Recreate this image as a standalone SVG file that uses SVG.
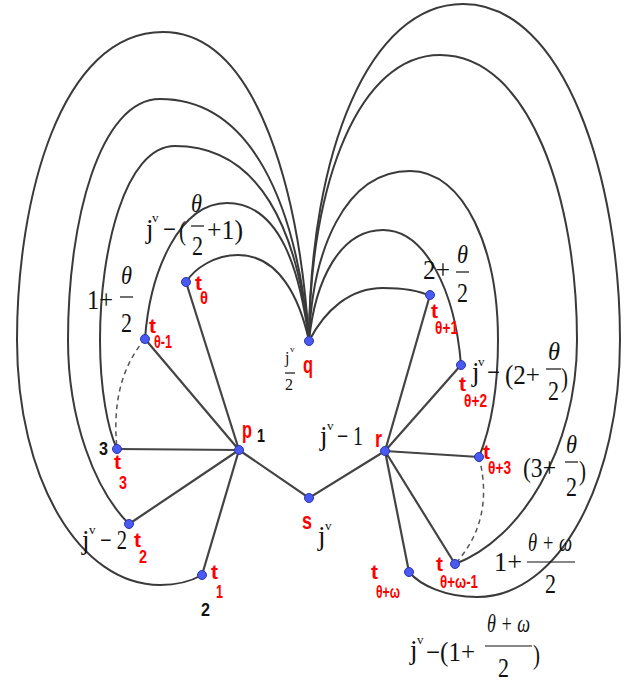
<svg xmlns="http://www.w3.org/2000/svg" width="643" height="684" viewBox="0 0 643 684">
<style>
.c{fill:none;stroke:#3a3a3a;stroke-width:2}
.e{fill:none;stroke:#444;stroke-width:2.2}
.d{fill:none;stroke:#555;stroke-width:1.5;stroke-dasharray:5 4}
.n{fill:#4a5af0;stroke:#2a35b0;stroke-width:1}
.t{font-family:"Liberation Sans",Arial,sans-serif;font-size:21px;fill:#ff0000;font-weight:bold}
.s{font-family:"Liberation Sans",Arial,sans-serif;font-size:18px;fill:#ff0000;font-weight:bold}
.L{font-family:"Liberation Sans",Arial,sans-serif;font-size:24px;fill:#ff0000;font-weight:bold}
.k{font-family:"Liberation Sans",Arial,sans-serif;font-size:19px;fill:#111;font-weight:bold}
.m{font-family:"Liberation Serif","Times New Roman",serif;font-size:27px;fill:#111}
.mi{font-family:"Liberation Serif","Times New Roman",serif;font-size:25px;fill:#111;font-style:italic}
.sup{font-family:"Liberation Serif","Times New Roman",serif;font-size:13px;fill:#111}
.fb{stroke:#111;stroke-width:1.2}
</style>
<rect width="643" height="684" fill="#fff"/>
<g id="connectors">
<path class="c" d="M309 341 C300 200 260 32 163 32 C60 32 17 200 17 340 C17 480 80 585 160 585 C180 585 195 579 202 575"/>
<path class="c" d="M309 341 C296 200 250 99 160 99 C100 99 68 220 68 340 C68 420 95 490 129 524"/>
<path class="c" d="M309 341 C298 230 260 146 175 146 C125 146 100 250 100 340 C100 390 108 430 117 449"/>
<path class="c" d="M309 341 C300 270 280 203 227 203 C180 203 150 270 145 339"/>
<path class="c" d="M309 341 C300 300 280 255 238 255 C215 255 195 268 186 282"/>
<path class="c" d="M309 341 C325 310 350 288 383 288 C405 288 420 291 430 296"/>
<path class="c" d="M309 341 C315 280 340 230 383 230 C425 230 455 290 461 365"/>
<path class="c" d="M309 341 C312 250 345 171 410 171 C465 171 498 250 498 340 C498 390 490 430 479 457"/>
<path class="c" d="M309 341 C310 180 360 55 440 55 C530 55 577 200 577 340 C577 450 520 540 455 564"/>
<path class="c" d="M309 341 C310 150 370 4 463 4 C565 4 620 180 620 340 C620 480 560 597 477 597 C445 597 420 585 409 572"/>
<path class="d" d="M145 339 Q110 380 117 449"/>
<path class="d" d="M479 457 Q495 520 455 564"/>
<path class="e" d="M239 450 L186 282 M239 450 L145 339 M239 450 L117 449 M239 450 L129 524 M239 450 L202 575 M239 450 L309 498 L385 451"/>
<path class="e" d="M385 451 L430 295 M385 451 L461 365 M385 451 L479 457 M385 451 L455 564 M385 451 L409 572"/>
</g>
<g id="q"><circle class="n" cx="309" cy="341" r="4.5"/><text class="L" x="303" y="373" textLength="10" lengthAdjust="spacingAndGlyphs">q</text>
<text class="sup" x="285" y="363" style="font-size:16px">j</text><text class="sup" x="290" y="352" style="font-size:9px">v</text><line class="fb" x1="285" y1="373" x2="295" y2="373"/><text class="sup" x="285" y="390" style="font-size:16px" textLength="8" lengthAdjust="spacingAndGlyphs">2</text></g>
<g id="p"><circle class="n" cx="239" cy="450" r="4.5"/><text class="L" x="242" y="438" textLength="10" lengthAdjust="spacingAndGlyphs">p</text><text class="k" x="257" y="442" textLength="8" lengthAdjust="spacingAndGlyphs">1</text></g>
<g id="s"><circle class="n" cx="309" cy="498" r="4.5"/><text class="L" x="302" y="529" textLength="10" lengthAdjust="spacingAndGlyphs">s</text><text class="m" x="318" y="545">j</text><text class="sup" x="325" y="530">v</text></g>
<g id="r"><circle class="n" cx="385" cy="451" r="4.5"/><text class="L" x="375" y="447" textLength="7" lengthAdjust="spacingAndGlyphs">r</text><text class="m" x="320" y="445">j</text><text class="sup" x="327" y="430">v</text><text class="m" x="337" y="445" textLength="26" lengthAdjust="spacingAndGlyphs">− 1</text></g>
<g id="t_theta"><circle class="n" cx="186" cy="282" r="4.5"/><text class="t" x="195" y="290">t</text><text class="s" x="200" y="304" textLength="8" lengthAdjust="spacingAndGlyphs">θ</text></g>
<g id="t_theta_m1"><circle class="n" cx="145" cy="339" r="4.5"/><text class="t" x="149" y="333">t</text><text class="s" x="154" y="348" textLength="18" lengthAdjust="spacingAndGlyphs">θ-1</text></g>
<g id="t_3"><circle class="n" cx="117" cy="449" r="4.5"/><text class="k" x="99" y="455" textLength="9" lengthAdjust="spacingAndGlyphs">3</text><text class="t" x="114" y="469">t</text><text class="s" x="119" y="489" textLength="8" lengthAdjust="spacingAndGlyphs">3</text></g>
<g id="t_2"><circle class="n" cx="129" cy="524" r="4.5"/><text class="t" x="134" y="547">t</text><text class="s" x="139" y="563" textLength="8" lengthAdjust="spacingAndGlyphs">2</text></g>
<g id="t_1"><circle class="n" cx="202" cy="575" r="4.5"/><text class="t" x="211" y="579">t</text><text class="s" x="216" y="598" textLength="7" lengthAdjust="spacingAndGlyphs">1</text><text class="k" x="201" y="616" textLength="9" lengthAdjust="spacingAndGlyphs">2</text></g>
<g id="t_theta_p1"><circle class="n" cx="430" cy="295" r="4.5"/><text class="t" x="431" y="318">t</text><text class="s" x="435" y="334" textLength="23" lengthAdjust="spacingAndGlyphs">θ+1</text></g>
<g id="t_theta_p2"><circle class="n" cx="461" cy="365" r="4.5"/><text class="t" x="459" y="391">t</text><text class="s" x="464" y="407" textLength="23" lengthAdjust="spacingAndGlyphs">θ+2</text></g>
<g id="t_theta_p3"><circle class="n" cx="479" cy="457" r="4.5"/><text class="t" x="483" y="459">t</text><text class="s" x="488" y="474" textLength="23" lengthAdjust="spacingAndGlyphs">θ+3</text></g>
<g id="t_theta_pw_m1"><circle class="n" cx="455" cy="564" r="4.5"/><text class="t" x="436" y="571">t</text><text class="s" x="440" y="588" textLength="38" lengthAdjust="spacingAndGlyphs">θ+ω-1</text></g>
<g id="t_theta_pw"><circle class="n" cx="409" cy="572" r="4.5"/><text class="t" x="371" y="579">t</text><text class="s" x="376" y="598" textLength="24" lengthAdjust="spacingAndGlyphs">θ+ω</text></g>
<g id="labels">
<text class="m" x="82" y="549">j</text><text class="sup" x="89" y="534">v</text><text class="m" x="100" y="549" textLength="27" lengthAdjust="spacingAndGlyphs">− 2</text>
<text class="m" x="146" y="238">j</text><text class="sup" x="152" y="222">v</text><text class="m" x="163" y="238" textLength="13" lengthAdjust="spacingAndGlyphs">−</text><text class="m" x="179" y="240" textLength="7" lengthAdjust="spacingAndGlyphs">(</text><text class="mi" x="191" y="212" textLength="11" lengthAdjust="spacingAndGlyphs">θ</text><line class="fb" x1="191" y1="226" x2="204" y2="226"/><text class="m" x="192" y="255" textLength="11" lengthAdjust="spacingAndGlyphs">2</text><text class="m" x="207" y="239" textLength="36" lengthAdjust="spacingAndGlyphs">+1)</text>
<text class="m" x="87" y="309" textLength="26" lengthAdjust="spacingAndGlyphs">1+</text><text class="mi" x="121" y="284" textLength="11" lengthAdjust="spacingAndGlyphs">θ</text><line class="fb" x1="120" y1="297" x2="133" y2="297"/><text class="m" x="121" y="332" textLength="11" lengthAdjust="spacingAndGlyphs">2</text>
<text class="m" x="423" y="279" textLength="27" lengthAdjust="spacingAndGlyphs">2+</text><text class="mi" x="457" y="263" textLength="11" lengthAdjust="spacingAndGlyphs">θ</text><line class="fb" x1="456" y1="272" x2="469" y2="272"/><text class="m" x="457" y="302" textLength="11" lengthAdjust="spacingAndGlyphs">2</text>
<text class="m" x="472" y="381">j</text><text class="sup" x="478" y="366">v</text><text class="m" x="487" y="381" textLength="13" lengthAdjust="spacingAndGlyphs">−</text><text class="m" x="505" y="384" textLength="35" lengthAdjust="spacingAndGlyphs">(2+</text><text class="mi" x="548" y="360" textLength="12" lengthAdjust="spacingAndGlyphs">θ</text><line class="fb" x1="546" y1="369" x2="561" y2="369"/><text class="m" x="548" y="400" textLength="11" lengthAdjust="spacingAndGlyphs">2</text><text class="m" x="561" y="387" textLength="7" lengthAdjust="spacingAndGlyphs">)</text>
<text class="m" x="523" y="477" textLength="33" lengthAdjust="spacingAndGlyphs">(3+</text><text class="mi" x="566" y="453" textLength="11" lengthAdjust="spacingAndGlyphs">θ</text><line class="fb" x1="565" y1="462" x2="578" y2="462"/><text class="m" x="566" y="496" textLength="11" lengthAdjust="spacingAndGlyphs">2</text><text class="m" x="579" y="480" textLength="7" lengthAdjust="spacingAndGlyphs">)</text>
<text class="m" x="494" y="571" textLength="28" lengthAdjust="spacingAndGlyphs">1+</text><text class="mi" x="528" y="551" textLength="44" lengthAdjust="spacingAndGlyphs">θ + ω</text><line class="fb" x1="527" y1="562" x2="575" y2="562"/><text class="m" x="545" y="593" textLength="11" lengthAdjust="spacingAndGlyphs">2</text>
<text class="m" x="410" y="659">j</text><text class="sup" x="417" y="644">v</text><text class="m" x="426" y="661" textLength="49" lengthAdjust="spacingAndGlyphs">−(1+</text><text class="mi" x="487" y="632" textLength="43" lengthAdjust="spacingAndGlyphs">θ + ω</text><line class="fb" x1="485" y1="646" x2="532" y2="646"/><text class="m" x="498" y="677" textLength="11" lengthAdjust="spacingAndGlyphs">2</text><text class="m" x="533" y="664" textLength="7" lengthAdjust="spacingAndGlyphs">)</text>
</g>
</svg>
